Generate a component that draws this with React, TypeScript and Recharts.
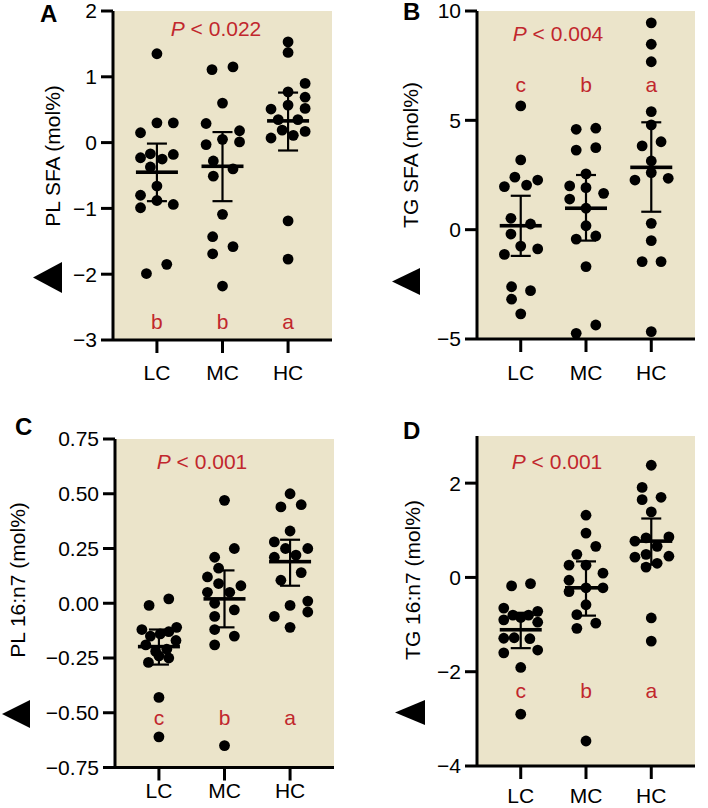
import React from 'react';
import { ScatterChart, Scatter, XAxis, YAxis, CartesianGrid, ErrorBar } from 'recharts';

const categories = ['LC', 'MC', 'HC'];

// [jitter, value]
const plSfaLC = [[0,1.35],[0,0.30],[0.25,0.30],[-0.25,0.15],[-0.1,-0.17],[-0.25,-0.23],[0.08,-0.25],[0.25,-0.18],[-0.1,-0.37],[0,-0.66],[-0.25,-0.80],[0,-0.88],[-0.25,-0.99],[0.25,-0.94],[-0.16,-1.99],[0.15,-1.85]];
const plSfaMC = [[-0.16,1.11],[0.16,1.15],[0,0.60],[-0.25,0.29],[0.26,0.18],[0,0.05],[0.26,0.01],[-0.25,-0.03],[-0.14,-0.28],[0.16,-0.40],[-0.14,-0.51],[0,-1.09],[-0.15,-1.43],[0.16,-1.58],[-0.15,-1.69],[0,-2.18]];
const plSfaHC = [[0,1.53],[0,1.37],[0.26,0.90],[0,0.77],[0.26,0.69],[0,0.57],[-0.26,0.51],[0.26,0.52],[-0.15,0.35],[0.15,0.35],[-0.09,0.19],[0.08,0.11],[0.26,0.17],[-0.26,0.07],[0,-1.19],[0,-1.77]];
const plSfaMean = [-0.45, -0.36, 0.33];
const plSfaLow = [-0.89, -0.89, -0.12];
const plSfaHigh = [-0.015, 0.16, 0.76];
const plSfaLetters = ['b', 'b', 'a'];

const tgSfaLC = [[0,5.66],[0,3.19],[-0.09,2.40],[-0.25,1.97],[0.09,2.04],[0.26,2.27],[-0.15,0.52],[0.15,0.26],[-0.15,-0.20],[0,-0.75],[0.26,-0.88],[-0.25,-1.13],[-0.14,-2.61],[0.15,-2.79],[-0.14,-3.18],[0,-3.85]];
const tgSfaMC = [[-0.15,4.59],[0.15,4.64],[-0.15,3.64],[0.15,3.75],[0,2.55],[-0.25,2.0],[0,1.92],[0.27,1.66],[-0.25,1.40],[0,0.98],[0,0.18],[-0.15,-0.43],[0.15,-0.29],[0,-1.69],[0.15,-4.36],[-0.15,-4.74]];
const tgSfaHC = [[0,9.46],[0,8.48],[0,7.68],[0,5.40],[0,4.79],[-0.14,3.83],[0.15,4.02],[0,3.14],[0,2.61],[-0.25,2.27],[0.26,2.35],[0,0.29],[0,-0.50],[-0.14,-1.46],[0.15,-1.46],[0,-4.66]];
const tgSfaMean = [0.18, 0.98, 2.85];
const tgSfaLow = [-1.20, -0.50, 0.82];
const tgSfaHigh = [1.55, 2.50, 4.91];
const tgSfaLetters = ['c', 'b', 'a'];

const pl167LC = [[-0.15,-0.01],[0.15,0.02],[-0.26,-0.12],[0.27,-0.11],[-0.13,-0.15],[0.02,-0.14],[0.15,-0.13],[0.26,-0.17],[-0.2,-0.19],[0.12,-0.21],[-0.05,-0.22],[0.15,-0.25],[-0.16,-0.27],[0,-0.24],[0,-0.43],[0,-0.61]];
const pl167MC = [[0,0.47],[0.15,0.25],[-0.15,0.21],[-0.09,0.16],[-0.26,0.12],[-0.09,0.09],[0.25,0.08],[-0.26,0.05],[0.08,0.05],[-0.15,0.00],[0.15,-0.03],[-0.15,-0.06],[-0.15,-0.12],[0.15,-0.15],[-0.15,-0.19],[0,-0.65]];
const pl167HC = [[0,0.50],[-0.14,0.44],[0.17,0.45],[0,0.33],[-0.24,0.28],[-0.07,0.25],[0.27,0.25],[-0.24,0.21],[0.09,0.22],[0.17,0.14],[-0.14,0.105],[0.27,0.01],[0,-0.01],[-0.24,-0.06],[0.27,-0.04],[0,-0.11]];
const pl167Mean = [-0.198, 0.02, 0.19];
const pl167Low = [-0.28, -0.11, 0.08];
const pl167High = [-0.12, 0.15, 0.29];
const pl167Letters = ['c', 'b', 'a'];

const tg167LC = [[-0.14,-0.18],[0.15,-0.13],[-0.26,-0.65],[0.26,-0.72],[-0.26,-0.90],[-0.12,-0.80],[0.12,-0.80],[0,-0.85],[0.26,-0.95],[-0.26,-1.29],[-0.1,-1.28],[0.14,-1.30],[-0.26,-1.60],[0.26,-1.54],[0,-1.91],[0,-2.90]];
const tg167MC = [[0,1.32],[0,0.94],[0.15,0.66],[-0.14,0.49],[-0.26,0.26],[0,0.26],[0.26,0.09],[-0.26,-0.06],[0,-0.22],[0.26,-0.22],[-0.26,-0.30],[0,-0.58],[-0.14,-0.79],[0.15,-0.97],[-0.14,-1.08],[0,-3.47]];
const tg167HC = [[0,2.38],[-0.14,1.91],[-0.14,1.65],[0.15,1.70],[0,1.39],[-0.25,0.77],[-0.08,0.84],[0.27,0.86],[0.09,0.66],[-0.25,0.43],[-0.08,0.49],[0.27,0.45],[0.09,0.30],[-0.08,0.22],[0,-0.86],[0,-1.35]];
const tg167Mean = [-1.11, -0.22, 0.77];
const tg167Low = [-1.50, -0.81, 0.27];
const tg167High = [-0.75, 0.34, 1.25];
const tg167Letters = ['c', 'b', 'a'];

const BG = '#EBE4CA';
const RED = '#C1272D';
const FONT = '"Liberation Sans", Arial, Helvetica, sans-serif';

const minus = (s: string) => s.replace('-', '\u2212');
const fmtInt = (v: number) => minus(String(v));
const fmt2 = (v: number) => minus(v.toFixed(2));

const Dot = (p: any) => <circle cx={p.cx} cy={p.cy} r={5.4} fill="#000" />;
const MeanLine = (p: any) => <rect x={p.cx - 21} y={p.cy - 1.8} width={42} height={3.6} fill="#000" />;
const LetterShape = (p: any) => (
  <text x={p.cx} y={p.cy} textAnchor="middle" fill={RED} fontSize={21} fontFamily={FONT}>
    {p.payload.t}
  </text>
);

function Panel(props: any) {
  const { left, top, width, height, margin, yWidth, xHeight, yDomain, yTicks, yFmt, groups, means, lows, highs, letters, letterY, yLabel, labelX, labelY, xTickMargin } = props;
  const dots = groups.flatMap((g: number[][], i: number) => g.map(([j, v]) => ({ x: i + 1 + j, y: v })));
  const summary = means.map((m: number, i: number) => ({ x: i + 1, y: m, err: [m - lows[i], highs[i] - m] }));
  const letterData = letters.map((t: string, i: number) => ({ x: i + 1, y: letterY, t }));
  return (
    <div style={{ position: 'absolute', left, top, width, height }}>
      <ScatterChart width={width} height={height} margin={margin}>
        <CartesianGrid fill={BG} fillOpacity={1} stroke="none" horizontal={false} vertical={false} />
        <XAxis
          type="number"
          dataKey="x"
          domain={[0.33, 3.67]}
          ticks={[1, 2, 3]}
          tickFormatter={(v: number) => categories[v - 1]}
          height={xHeight}
          axisLine={{ stroke: '#000', strokeWidth: 3 }}
          tickLine={{ stroke: '#000', strokeWidth: 3 }}
          tickSize={13}
          tickMargin={xTickMargin}
          tick={{ fill: '#000', fontSize: 21, fontFamily: FONT }}
          allowDataOverflow
          interval={0}
        />
        <YAxis
          type="number"
          dataKey="y"
          domain={yDomain}
          ticks={yTicks}
          tickFormatter={yFmt}
          width={yWidth}
          axisLine={{ stroke: '#000', strokeWidth: 3 }}
          tickLine={{ stroke: '#000', strokeWidth: 3 }}
          tickSize={12}
          tickMargin={4}
          tick={{ fill: '#000', fontSize: 21, fontFamily: FONT }}
          allowDataOverflow
          interval={0}
          label={{
            content: () => (
              <text
                transform={`translate(${labelX},${labelY}) rotate(-90)`}
                textAnchor="middle"
                dominantBaseline="central"
                fontSize={21}
                fontFamily={FONT}
                fill="#000"
              >
                {yLabel}
              </text>
            ),
          }}
        />
        <Scatter data={dots} shape={Dot} isAnimationActive={false} />
        <Scatter data={summary} shape={MeanLine} isAnimationActive={false}>
          <ErrorBar dataKey="err" direction="y" width={10} stroke="#000" strokeWidth={2.2} isAnimationActive={false} />
        </Scatter>
        <Scatter data={letterData} shape={LetterShape} isAnimationActive={false} />
      </ScatterChart>
    </div>
  );
}

function PText({ x, y }: { x: number; y: number }) {
  return (
    <text x={x} y={y} textAnchor="middle" fill={RED} fontSize={21} fontFamily={FONT}>
      <tspan fontStyle="italic">P</tspan>
      {' < 0.0'}
    </text>
  );
}

export default function App() {
  return (
    <div style={{ position: 'absolute', left: 0, top: 0, width: 708, height: 808, background: '#fff', overflow: 'hidden' }}>
      <Panel
        left={0} top={0} width={340} height={400}
        margin={{ top: 11, right: 8, bottom: 0, left: 0 }}
        yWidth={113} xHeight={60} xTickMargin={12}
        yDomain={[-3, 2]} yTicks={[-3, -2, -1, 0, 1, 2]} yFmt={fmtInt}
        groups={[plSfaLC, plSfaMC, plSfaHC]} means={plSfaMean} lows={plSfaLow} highs={plSfaHigh}
        letters={plSfaLetters} letterY={-2.83}
        yLabel="PL SFA (mol%)" labelX={52} labelY={156}
      />
      <Panel
        left={340} top={0} width={368} height={400}
        margin={{ top: 11, right: 13, bottom: 0, left: 0 }}
        yWidth={137} xHeight={61} xTickMargin={13}
        yDomain={[-5, 10]} yTicks={[-5, 0, 5, 10]} yFmt={fmtInt}
        groups={[tgSfaLC, tgSfaMC, tgSfaHC]} means={tgSfaMean} lows={tgSfaLow} highs={tgSfaHigh}
        letters={tgSfaLetters} letterY={6.31}
        yLabel="TG SFA (mol%)" labelX={70} labelY={155}
      />
      <Panel
        left={0} top={400} width={340} height={408}
        margin={{ top: 39, right: 6, bottom: 0, left: 0 }}
        yWidth={115} xHeight={40.5} xTickMargin={3}
        yDomain={[-0.75, 0.75]} yTicks={[-0.75, -0.5, -0.25, 0, 0.25, 0.5, 0.75]} yFmt={fmt2}
        groups={[pl167LC, pl167MC, pl167HC]} means={pl167Mean} lows={pl167Low} highs={pl167High}
        letters={pl167Letters} letterY={-0.554}
        yLabel="PL 16:n7 (mol%)" labelX={17} labelY={180}
      />
      <Panel
        left={340} top={400} width={368} height={408}
        margin={{ top: 36, right: 13, bottom: 0, left: 0 }}
        yWidth={137} xHeight={42} xTickMargin={9}
        yDomain={[-4, 3]} yTicks={[-4, -2, 0, 2]} yFmt={fmtInt}
        groups={[tg167LC, tg167MC, tg167HC]} means={tg167Mean} lows={tg167Low} highs={tg167High}
        letters={tg167Letters} letterY={-2.55}
        yLabel="TG 16:n7 (mol%)" labelX={72} labelY={180}
      />
      <svg width={708} height={808} style={{ position: 'absolute', left: 0, top: 0, pointerEvents: 'none' }}>
        <g fontFamily={FONT} fontWeight="bold" fontSize={24} fill="#000">
          <text x={40} y={22}>A</text>
          <text x={403} y={20}>B</text>
          <text x={15} y={435}>C</text>
          <text x={403} y={439}>D</text>
        </g>
        <text x={216} y={36} textAnchor="middle" fill={RED} fontSize={21} fontFamily={FONT}>
          <tspan fontStyle="italic">P</tspan> &lt; 0.022
        </text>
        <text x={558} y={41} textAnchor="middle" fill={RED} fontSize={21} fontFamily={FONT}>
          <tspan fontStyle="italic">P</tspan> &lt; 0.004
        </text>
        <text x={202} y={469} textAnchor="middle" fill={RED} fontSize={21} fontFamily={FONT}>
          <tspan fontStyle="italic">P</tspan> &lt; 0.001
        </text>
        <text x={557} y={469} textAnchor="middle" fill={RED} fontSize={21} fontFamily={FONT}>
          <tspan fontStyle="italic">P</tspan> &lt; 0.001
        </text>
        <polygon points="33,277.5 62,262 62,293" fill="#000" />
        <polygon points="392,281.5 420,268 420,295" fill="#000" />
        <polygon points="2,714 30,700 30,728" fill="#000" />
        <polygon points="395,712.5 425,700 425,725" fill="#000" />
      </svg>
    </div>
  );
}
